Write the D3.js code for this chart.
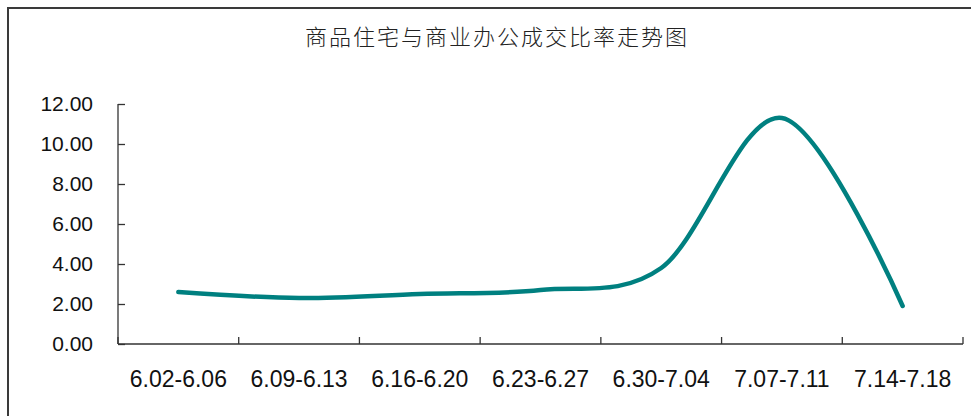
<!DOCTYPE html>
<html>
<head>
<meta charset="utf-8">
<script src="https://cdn.jsdelivr.net/npm/d3@7"></script>
<style>
  html, body { margin: 0; padding: 0; background: #fff; }
  svg { display: block; }
</style>
</head>
<body>
<svg id="chart" width="971" height="416"></svg>
<script>
// Weekly periods and the commercial-housing / office transaction ratio
const weeks = ["6.02-6.06", "6.09-6.13", "6.16-6.20", "6.23-6.27", "6.30-7.04", "7.07-7.11", "7.14-7.18"];
const ratio = [2.6, 2.3, 2.5, 2.7, 3.8, 11.3, 1.9];
const yTicks = [0, 2, 4, 6, 8, 10, 12];
const title = "商品住宅与商业办公成交比率走势图";

const svg = d3.select("#chart");
const W = 971, H = 416;
const plot = { left: 118, right: 963, top: 104, bottom: 344 };

// Outer chart frame (extends past the right and bottom edges)
svg.append("rect")
  .attr("x", 8).attr("y", 8)
  .attr("width", W + 20).attr("height", H + 20)
  .attr("fill", "none")
  .attr("stroke", "#3a3a3a")
  .attr("stroke-width", 2);

svg.append("text")
  .attr("x", 497).attr("y", 45)
  .attr("text-anchor", "middle")
  .attr("font-family", "'Noto Sans CJK SC', sans-serif")
  .attr("font-size", 22)
  .attr("font-weight", 300)
  .attr("letter-spacing", 2)
  .attr("fill", "#222")
  .text(title);

const x = d3.scaleBand().domain(weeks).range([plot.left, plot.right]).padding(0);
const y = d3.scaleLinear().domain([0, 12]).range([plot.bottom, plot.top]);

// Y axis with inward ticks
const yAxis = svg.append("g")
  .attr("transform", `translate(${plot.left},0)`)
  .call(d3.axisLeft(y).tickValues(yTicks).tickSize(-7).tickPadding(25).tickFormat(d3.format(".2f")));
yAxis.select(".domain").attr("d", `M0,${plot.top}V${plot.bottom}`);

// X axis with inward ticks at band boundaries
const bounds = weeks.map(w => x(w)).concat([plot.right]);
const xg = svg.append("g").attr("transform", `translate(0,${plot.bottom})`);
xg.append("line")
  .attr("class", "xdomain")
  .attr("x1", plot.left).attr("x2", plot.right)
  .attr("y1", 0).attr("y2", 0);
xg.selectAll("line.tk").data(bounds).join("line")
  .attr("class", "tk")
  .attr("x1", d => d).attr("x2", d => d)
  .attr("y1", 0).attr("y2", -7);
xg.selectAll("text").data(weeks).join("text")
  .attr("x", d => x(d) + x.bandwidth() / 2)
  .attr("y", 43)
  .attr("text-anchor", "middle")
  .text(d => d);

svg.selectAll("g .domain, g line, g .tick line, g line.tk, g line.xdomain")
  .attr("stroke", "#333").attr("stroke-width", 1.3);
yAxis.selectAll("text")
  .attr("font-family", "'Liberation Sans', Arial, sans-serif")
  .attr("font-size", 21).attr("fill", "#111");
xg.selectAll("text")
  .attr("font-family", "'Liberation Sans', Arial, sans-serif")
  .attr("font-size", 23).attr("fill", "#111");

// Smoothed ratio line
const line = d3.line()
  .x((d, i) => x(weeks[i]) + x.bandwidth() / 2)
  .y(d => y(d))
  .curve(d3.curveCardinal.tension(0));

svg.append("path")
  .datum(ratio)
  .attr("d", line)
  .attr("fill", "none")
  .attr("stroke", "#008080")
  .attr("stroke-width", 4.5)
  .attr("stroke-linecap", "round")
  .attr("stroke-linejoin", "round");
</script>
</body>
</html>
